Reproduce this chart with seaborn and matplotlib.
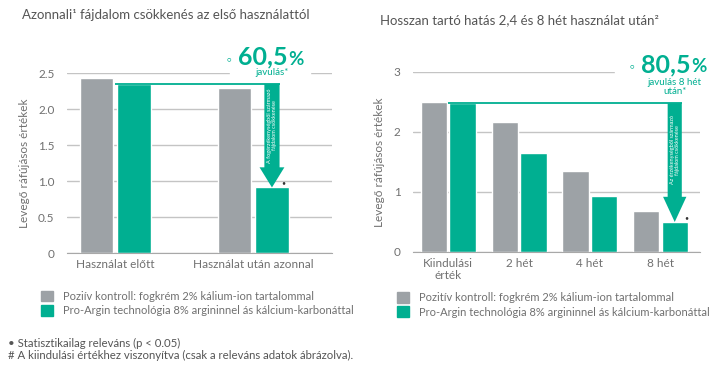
import pandas as pd
import seaborn as sns
import matplotlib.pyplot as plt
from matplotlib.patches import FancyArrow, Rectangle, Patch

GRAY = '#9da2a6'
TEAL = '#00af91'
TXT = '#707070'
GRID = '#c4c4c4'

# bal oldali grafikon
left_cats = ['Használat előtt', 'Használat után azonnal']
left_control = [2.43, 2.29]
left_argin = [2.35, 0.91]
left_ticks = [0, 0.5, 1.0, 1.5, 2.0, 2.5]
left_ticklabels = ['0', '0.5', '1.0', '1.5', '2.0', '2.5']
left_title = 'Azonnali¹ fájdalom csökkenés az első használattól'
left_legend = ['Poziív kontroll: fogkrém 2% kálium-ion tartalommal',
               'Pro-Argin technológia 8% argininnel ás kálcium-karbonáttal']
left_big = '60,5'
left_note = 'javulás*'
left_arrow_text = 'A fogérzékenységből származó\nfájdalom csökkenése'

# jobb oldali grafikon
right_cats = ['Kiindulási\nérték', '2 hét', '4 hét', '8 hét']
right_control = [2.50, 2.17, 1.35, 0.68]
right_argin = [2.48, 1.65, 0.93, 0.50]
right_ticks = [0, 1, 2, 3]
right_ticklabels = ['0', '1', '2', '3']
right_title = 'Hosszan tartó hatás 2,4 és 8 hét használat után²'
right_legend = ['Pozitív kontroll: fogkrém 2% kálium-ion tartalommal',
                'Pro-Argin technológia 8% argininnel ás kálcium-karbonáttal']
right_big = '80,5'
right_note = 'javulás 8 hét\nután*'
right_arrow_text = 'Az érzékenységből származó\nfájdalom csökkenése'

ylabel = 'Levegő ráfújásos értékek'
footnotes = ['• Statisztikailag releváns (p < 0.05)',
             '# A kiindulási értékhez viszonyítva (csak a releváns adatok ábrázolva).']

sns.set_style('white')
plt.rcParams['font.family'] = ['Lato', 'DejaVu Sans']

W, H = 722, 369
fig = plt.figure(figsize=(W / 100, H / 100), dpi=100)


def box(x0, y0, x1, y1):
    return [x0 / W, 1 - y1 / H, (x1 - x0) / W, (y1 - y0) / H]


def panel(ax, cats, control, argin, ticks, ticklabels, width, gap, xlim, seps,
          shaft, head, head_len, big, big_dy, note, note_dy, arrow_text, legend,
          leg_anchor, mask):
    df = pd.DataFrame({'cat': cats * 2,
                       'val': control + argin,
                       'series': ['kontroll'] * len(cats) + ['argin'] * len(cats)})
    sns.barplot(data=df, x='cat', y='val', hue='series', palette=[GRAY, TEAL],
                width=width, gap=gap, saturation=1, legend=False, ax=ax, zorder=2)
    ax.set_xlim(*xlim)
    ax.set_ylim(0, ticks[-1])
    ax.set_yticks(ticks, ticklabels)
    ax.set_axisbelow(True)
    ax.grid(axis='y', color=GRID, lw=1)
    ax.grid(axis='x', visible=False)
    for s in ['top', 'right', 'left']:
        ax.spines[s].set_visible(False)
    ax.spines['bottom'].set_color('#a8a8a8')
    ax.set_xlabel('')
    ax.set_ylabel(ylabel, color=TXT, fontsize=8.5, labelpad=6)
    ax.tick_params(axis='y', length=0, pad=9, labelsize=8.5, labelcolor=TXT)
    ax.tick_params(axis='x', which='major', length=0, pad=4, labelsize=8.5, labelcolor=TXT)
    ax.set_xticks(seps, minor=True)
    ax.tick_params(axis='x', which='minor', length=11, width=0.8, color='#a8a8a8')

    # kiemelés: vonal + nyíl
    n = len(cats)
    xc = (n - 1) + width / 4
    y0, y1 = argin[0], argin[-1]
    ax.hlines(y0, 0, xc + shaft / 2, color=TEAL, lw=1.3, zorder=3)
    ax.add_patch(FancyArrow(xc, y0, 0, y1 - y0, width=shaft, head_width=head,
                            head_length=head_len, length_includes_head=True,
                            color=TEAL, lw=0, zorder=4))
    ax.text(xc, (y0 + y1 + head_len) / 2, arrow_text, rotation=90, color='white',
            fontsize=4, ha='center', va='center', linespacing=1.1, zorder=5)
    ax.annotate('•', xy=(xc, y1), xytext=(7, 1), textcoords='offset points',
                color='#333333', fontsize=5, ha='left', va='bottom')

    # nagy szám
    top = ticks[-1]
    ax.add_patch(Rectangle((mask[0], top - 0.06), mask[1] - mask[0], 0.12, color='white',
                           zorder=1, clip_on=False))
    ax.annotate(big, xy=(xc, top), xytext=(-6.5, big_dy), textcoords='offset points',
                ha='center', va='baseline', fontsize=18, weight='bold', color=TEAL)
    ax.annotate('%', xy=(xc, top), xytext=(12, big_dy), textcoords='offset points',
                ha='left', va='baseline', fontsize=13.5, weight='bold', color=TEAL)
    ax.annotate('○', xy=(xc, top), xytext=(-31, big_dy + 4.5), textcoords='offset points',
                ha='center', va='center', fontsize=5, color=TEAL)
    ax.annotate(note, xy=(xc, top), xytext=(0, note_dy), textcoords='offset points',
                ha='center', va='top', fontsize=7, color=TEAL, linespacing=1.1)

    handles = [Patch(color=GRAY), Patch(color=TEAL)]
    ax.legend(handles, legend, loc='upper left', bbox_to_anchor=leg_anchor, frameon=False,
              fontsize=8, handlelength=1.1, handleheight=1.1, handletextpad=0.9,
              labelspacing=0.3, borderpad=0, borderaxespad=0, labelcolor=TXT)


axl = fig.add_axes(box(67, 73, 332, 253))
panel(axl, left_cats, left_control, left_argin, left_ticks, left_ticklabels,
      width=0.54, gap=0.1, xlim=(-0.35, 1.57), seps=[0.45],
      shaft=0.11, head=0.18, head_len=0.28, big=left_big, big_dy=6,
      note=left_note, note_dy=3.5, arrow_text=left_arrow_text, legend=left_legend,
      leg_anchor=(-0.10, -0.21), mask=(0.83, 1.41))

axr = fig.add_axes(box(413, 72, 700, 252))
panel(axr, right_cats, right_control, right_argin, right_ticks, right_ticklabels,
      width=0.81, gap=0.08, xlim=(-0.5, 3.56), seps=[0.5, 1.5, 2.5],
      shaft=0.2, head=0.33, head_len=0.42, big=right_big, big_dy=0,
      note=right_note, note_dy=-4, arrow_text=right_arrow_text, legend=right_legend,
      leg_anchor=(-0.056, -0.222), mask=(2.36, 3.56))

fig.text(22 / W, 1 - 15 / H, left_title, fontsize=9.5, color='#555555', va='center')
fig.text(380 / W, 1 - 20 / H, right_title, fontsize=9.5, color='#555555', va='center')
fig.text(8 / W, 1 - 343 / H, footnotes[0], fontsize=8.2, color='#555555', va='center')
fig.text(8 / W, 1 - 355 / H, footnotes[1], fontsize=8.2, color='#555555', va='center')

fig.savefig('out.png', dpi=100)
